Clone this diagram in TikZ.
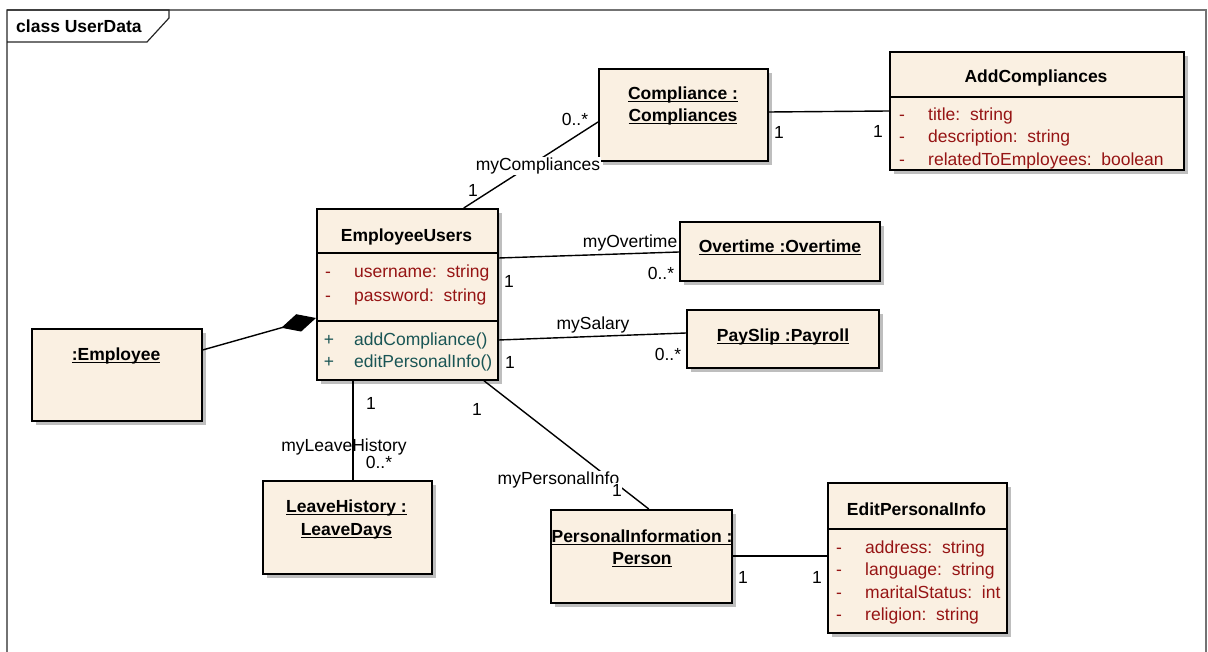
\documentclass[tikz,border=0pt]{standalone}
\usepackage{fontspec}
\setmainfont{Liberation Sans}
\usetikzlibrary{shadows,arrows.meta}
\definecolor{boxfill}{RGB}{250,240,226}
\definecolor{attrred}{RGB}{150,20,20}
\definecolor{opteal}{RGB}{25,85,85}
\definecolor{shade}{RGB}{190,190,190}
% bold, underlined object name with the rule just under the baseline
\newsavebox{\objulbox}
\newcommand{\objul}[1]{\sbox{\objulbox}{\textbf{#1}}\usebox{\objulbox}\llap{\rule[-2.6pt]{\wd\objulbox}{1.1pt}}}
\begin{document}
\begin{tikzpicture}[x=1pt,y=-1pt,
  font=\fontsize{17.5}{21}\selectfont,
  umlbox/.style={draw=black, line width=1.6pt, fill=boxfill, anchor=north west,
    inner sep=0pt, drop shadow={shadow xshift=4pt, shadow yshift=-4pt, fill=shade, opacity=1}},
  sepline/.style={line width=1.4pt},
  txt/.style={inner sep=0pt, text height=12.5pt, text depth=3.5pt},
  objname/.style={txt, font=\fontsize{17.5}{21}\selectfont\bfseries},
  clsname/.style={txt, font=\fontsize{17.5}{21}\selectfont\bfseries},
  vis/.style={txt},
  attr/.style={txt, anchor=west, text=attrred},
  oper/.style={txt, anchor=west, text=opteal},
  mult/.style={inner sep=0.5pt},
  role/.style={inner sep=0.5pt},
  rolebg/.style={inner sep=0.5pt, fill=white},
  assoc/.style={line width=1.4pt},
]
\useasboundingbox (0,0) rectangle (1208,652);

% diagram frame and its name tab
\draw[line width=1.2pt, black!55] (7,10) -- (1206,10) -- (1206,652);
\draw[line width=1.2pt, black!85] (7,652) -- (7,10) -- (169,10) -- (169,18) -- (147,42) -- (7,42);
\node[anchor=west, inner sep=0pt, font=\fontsize{17.5}{21}\selectfont\bfseries] (frametitle) at (16,26) {class UserData};

% ---------- boxes ----------
\node[umlbox, minimum width=169pt, minimum height=92pt] (comp) at (598,68) {};
\node[umlbox, minimum width=294pt, minimum height=118pt] (addc) at (889,51) {};
\node[umlbox, minimum width=181pt, minimum height=171pt] (eu) at (316,208) {};
\node[umlbox, minimum width=200pt, minimum height=59pt] (ot) at (679,221) {};
\node[umlbox, minimum width=192pt, minimum height=58pt] (ps) at (686,309) {};
\node[umlbox, minimum width=170pt, minimum height=92pt] (emp) at (31,328) {};
\node[umlbox, minimum width=169pt, minimum height=93pt] (lh) at (262,480) {};
\node[umlbox, minimum width=181pt, minimum height=93pt] (pi) at (550,509) {};
\node[umlbox, minimum width=179pt, minimum height=150pt] (epi) at (827,482) {};

% compartment separators
\draw[sepline] ([yshift=-45pt]eu.north west) -- ([yshift=-45pt]eu.north east);
\draw[sepline] ([yshift=-113pt]eu.north west) -- ([yshift=-113pt]eu.north east);
\draw[sepline] ([yshift=-46pt]addc.north west) -- ([yshift=-46pt]addc.north east);
\draw[sepline] ([yshift=-47pt]epi.north west) -- ([yshift=-47pt]epi.north east);

% ---------- box texts ----------
\node[objname] (compA) at (683,95) {\objul{Compliance :}};
\node[objname] (compB) at (683,117) {\objul{Compliances}};

\node[clsname] (addcT) at (1036,78) {AddCompliances};
\node[vis, text=attrred] (addcV1) at (902,116) {-};
\node[vis, text=attrred] (addcV2) at (902,138) {-};
\node[vis, text=attrred] (addcV3) at (902,161) {-};
\node[attr] (addcA1) at (928,116) {title:\ \ string};
\node[attr] (addcA2) at (928,138) {description:\ \ string};
\node[attr] (addcA3) at (928,161) {relatedToEmployees:\ \ boolean};

\node[clsname] (euT) at (406.5,237) {EmployeeUsers};
\node[vis, text=attrred] (euV1) at (328,273) {-};
\node[vis, text=attrred] (euV2) at (328,297) {-};
\node[attr] (euA1) at (354,273) {username:\ \ string};
\node[attr] (euA2) at (354,297) {password:\ \ string};
\node[vis, text=opteal] (euV3) at (329,341) {+};
\node[vis, text=opteal] (euV4) at (329,363) {+};
\node[oper] (euO1) at (354,341) {addCompliance()};
\node[oper] (euO2) at (354,363) {editPersonalInfo()};

\node[objname] (otT) at (780,248) {\objul{Overtime :Overtime}};
\node[objname] (psT) at (783,337) {\objul{PaySlip :Payroll}};
\node[objname] (empT) at (116,356) {\objul{:Employee}};
\node[objname] (lhA) at (346.5,508) {\objul{LeaveHistory :}};
\node[objname] (lhB) at (346.5,531) {\objul{LeaveDays}};
\node[objname] (piA) at (642,538) {\objul{PersonalInformation :}};
\node[objname] (piB) at (642,560) {\objul{Person}};

\node[clsname] (epiT) at (916.5,511) {EditPersonalInfo};
\node[vis, text=attrred] (epiV1) at (839,549) {-};
\node[vis, text=attrred] (epiV2) at (839,571) {-};
\node[vis, text=attrred] (epiV3) at (839,594) {-};
\node[vis, text=attrred] (epiV4) at (839,616) {-};
\node[attr] (epiA1) at (865,549) {address:\ \ string};
\node[attr] (epiA2) at (865,571) {language:\ \ string};
\begin{scope}
  \clip ([xshift=1pt]epi.south west) rectangle ([xshift=-1pt]epi.north east);
  \node[attr] (epiA3) at (865,594) {maritalStatus:\ \ int};
\end{scope}
\node[attr] (epiA4) at (865,616) {religion:\ \ string};

% ---------- connectors ----------
% composition
\draw[assoc, -{Diamond[length=36pt,width=18pt]}] ([yshift=-22pt]emp.north east) -- ([yshift=-110pt]eu.north west);

% myCompliances
\draw[assoc] ([xshift=56.5pt]eu.north) -- ([yshift=-54pt]comp.north west);
\node[mult] (m1a) at (473,190) {1};
\node[rolebg] (r1) at (538,166) {myCompliances};
\node[mult] (m1b) at (575,119) {0..*};

% Compliance -- AddCompliances
\draw[assoc] ([yshift=-44pt]comp.north east) -- ([yshift=-60pt]addc.north west);
\node[mult] (m2a) at (779,132) {1};
\node[mult] (m2b) at (878,131) {1};

% myOvertime
\draw[assoc] ([yshift=-50pt]eu.north east) -- ([yshift=-31pt]ot.north west);
\node[role, anchor=east] (r3) at (678,243) {myOvertime};
\node[mult] (m3a) at (509,281) {1};
\node[mult] (m3b) at (661,273) {0..*};

% mySalary
\draw[assoc] ([yshift=-132pt]eu.north east) -- ([yshift=-24pt]ps.north west);
\node[role] (r4) at (593,325) {mySalary};
\node[mult] (m4a) at (510,362) {1};
\node[mult] (m4b) at (668,354) {0..*};

% myLeaveHistory
\draw[assoc] ([xshift=-54.5pt]eu.south) -- ([xshift=5.5pt]lh.north);
\node[mult] (m5a) at (371,403) {1};
\node[role] (r5) at (344,447) {myLeaveHistory};
\node[mult, fill=white] (m5b) at (379,462) {0..*};
\draw[assoc] ([xshift=-54.5pt,yshift=-60pt]eu.south) -- ([xshift=5.5pt]lh.north);

% myPersonalInfo
\draw[assoc] ([xshift=76.5pt]eu.south) -- ([xshift=7.5pt]pi.north);
\node[rolebg, anchor=west] (r6) at (497,480) {myPersonalInfo};
\node[mult, fill=white] (m6b) at (617,490) {1};
\node[mult] (m6a) at (477,409) {1};

% PersonalInformation -- EditPersonalInfo
\draw[assoc] ([yshift=-47pt]pi.north east) -- ([yshift=-74pt]epi.north west);
\node[mult] (m7a) at (743,577) {1};
\node[mult] (m7b) at (817,577) {1};
\end{tikzpicture}
\end{document}
